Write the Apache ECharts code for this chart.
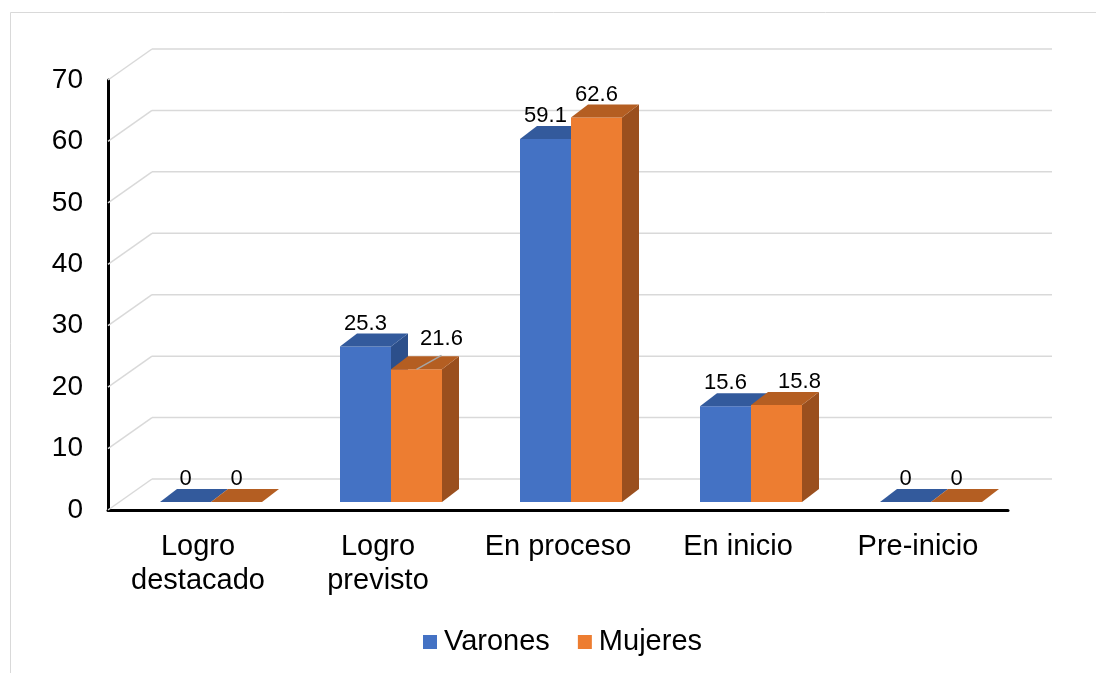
<!DOCTYPE html>
<html><head><meta charset="utf-8">
<script src="https://cdn.jsdelivr.net/npm/echarts@6/dist/echarts.min.js"></script>
<style>html,body{margin:0;padding:0;background:#fff}#c{width:1096px;height:673px}</style>
</head><body><div id="c"></div>
<script>
// ---- data ----
const categories = ['Logro\ndestacado', 'Logro\nprevisto', 'En proceso', 'En inicio', 'Pre-inicio'];
const seriesNames = ['Varones', 'Mujeres'];
const varones = [0, 25.3, 59.1, 15.6, 0];
const mujeres = [0, 21.6, 62.6, 15.8, 0];
const yTicks = [0, 10, 20, 30, 40, 50, 60, 70];

// ---- style ----
const FONT = 'Liberation Sans, Arial, sans-serif';
const WALL = [44, -31];
const BAR_OFF = [13, -8];
const BAR_DEPTH = [17, -13];
const BAR_RATIO = 51 / 180;
const palette = {
  Varones: { front: '#4472C4', top: '#335A9C', side: '#2C4F8B' },
  Mujeres: { front: '#ED7D31', top: '#B45E22', side: '#9A4F1E' }
};
const labelNudge = { 'Mujeres-1': { dx: 25, dy: -7, leader: true }, 'Mujeres-3': { dx: 23, dy: 0 } };

const chart = echarts.init(document.getElementById('c'), null, { renderer: 'canvas' });

function gridRender(params, api) {
  const p = api.coord([0, api.value(1)]);
  const cs = params.coordSys;
  const x0 = cs.x, x1 = cs.x + cs.width;
  const st = { stroke: '#d9d9d9', lineWidth: 1.5, fill: null };
  return {
    type: 'group', children: [
      { type: 'line', shape: { x1: x0, y1: p[1], x2: x0 + WALL[0], y2: p[1] + WALL[1] }, style: st },
      { type: 'line', shape: { x1: x0 + WALL[0], y1: p[1] + WALL[1], x2: x1 + WALL[0], y2: p[1] + WALL[1] }, style: st }
    ]
  };
}

function barRender(sIdx) {
  return function (params, api) {
    const cat = api.value(0), v = api.value(1);
    const top = api.coord([cat, v]);
    const base = api.coord([cat, 0]);
    const band = api.size([1, 0])[0];
    const w = band * BAR_RATIO;
    const cx = top[0] + BAR_OFF[0];
    const x0 = sIdx === 0 ? cx - w : cx;
    const x1 = x0 + w;
    const yt = top[1] + BAR_OFF[1], yb = base[1] + BAR_OFF[1];
    const dx = BAR_DEPTH[0], dy = BAR_DEPTH[1];
    const c = palette[seriesNames[sIdx]];
    const children = [];
    if (yb - yt > 0.5) {
      children.push({ type: 'polygon', shape: { points: [[x1, yt], [x1, yb], [x1 + dx, yb + dy], [x1 + dx, yt + dy]] }, style: { fill: c.side } });
      children.push({ type: 'rect', shape: { x: x0, y: yt, width: w, height: yb - yt }, style: { fill: c.front } });
    }
    children.push({ type: 'polygon', shape: { points: [[x0, yt], [x1, yt], [x1 + dx, yt + dy], [x0 + dx, yt + dy]] }, style: { fill: c.top } });
    const nudge = labelNudge[seriesNames[sIdx] + '-' + cat] || { dx: 0, dy: 0 };
    const lx = (x0 + x1) / 2 + nudge.dx;
    const ly = yt + dy - 10 + nudge.dy;
    if (nudge.leader) {
      children.push({ type: 'line', shape: { x1: (x0 + x1) / 2, y1: yt, x2: lx, y2: ly + 16 }, style: { stroke: '#a6a6a6', lineWidth: 1.5 } });
    }
    children.push({ type: 'text', style: { text: String(v), x: lx, y: ly, align: 'center', verticalAlign: 'middle', fontSize: 22, fontFamily: FONT, fill: '#000' } });
    return { type: 'group', children };
  };
}

const option = {
  animation: false,
  backgroundColor: '#fff',
  graphic: [{ type: 'rect', shape: { x: 10.5, y: 12.5, width: 1200, height: 800 }, style: { fill: null, stroke: '#d9d9d9', lineWidth: 1 }, silent: true, z: -10 }],
  grid: { left: 108, top: 80, width: 900, height: 430, containLabel: false },
  legend: {
    data: seriesNames, left: 423, top: 627, icon: 'rect', itemWidth: 14, itemHeight: 14, itemGap: 28,
    padding: 0, textStyle: { fontSize: 29, fontFamily: FONT, color: '#000', lineHeight: 30, padding: [0, 0, 0, 2] }
  },
  xAxis: {
    type: 'category', data: categories, boundaryGap: true,
    axisLine: { lineStyle: { color: '#000', width: 3 } }, axisTick: { show: false },
    axisLabel: { fontSize: 29, fontFamily: FONT, color: '#000', margin: 20, lineHeight: 34, interval: 0 },
    splitLine: { show: false }
  },
  yAxis: {
    type: 'value', min: 0, max: 70, interval: 10,
    axisLine: { show: true, lineStyle: { color: '#000', width: 3 } }, axisTick: { show: false },
    axisLabel: { fontSize: 28, fontFamily: FONT, color: '#000', margin: 25, padding: [7, 0, 0, 0] },
    splitLine: { show: false }
  },
  series: [
    { type: 'custom', silent: true, renderItem: gridRender, data: yTicks.map(t => [0, t]), encode: { x: 0, y: 1 }, z: 1 },
    { type: 'custom', name: 'Varones', renderItem: barRender(0), data: varones.map((v, i) => [i, v]), encode: { x: 0, y: 1 }, itemStyle: { color: palette.Varones.front }, z: 3 },
    { type: 'custom', name: 'Mujeres', renderItem: barRender(1), data: mujeres.map((v, i) => [i, v]), encode: { x: 0, y: 1 }, itemStyle: { color: palette.Mujeres.front }, z: 4 }
  ]
};
chart.setOption(option);
</script></body></html>
